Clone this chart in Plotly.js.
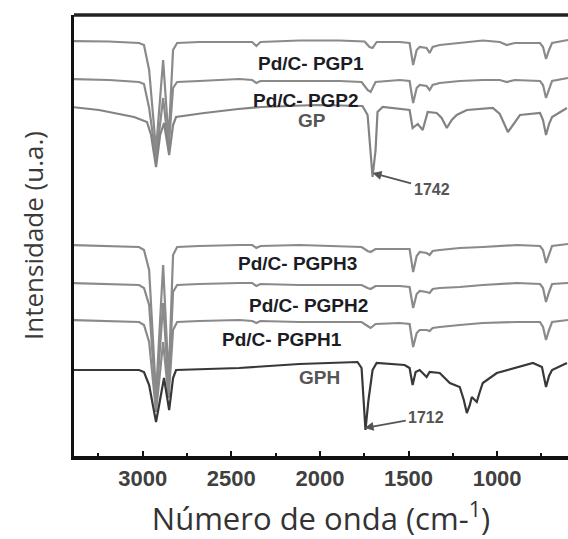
<!DOCTYPE html>
<html>
<head>
<meta charset="utf-8">
<script src="https://cdn.plot.ly/plotly-3.0.1.min.js"></script>
<style>
  html, body { margin: 0; padding: 0; background: #ffffff; }
  #chart { width: 568px; height: 539px; }
</style>
</head>
<body>
<div id="chart"></div>
<script>
// Wavenumbers (cm-1) and offset intensities (a.u.)
const wnPGP1 = [3400,3191,3021,2993,2964,2925,2885,2854,2829,2806,2682,2455,2382,2359,2336,2116,1890,1748,1720,1703,1680,1550,1494,1474,1454,1437,1398,1381,1364,1324,1211,1081,985,945,900,758,741,724,707,690,600];
const intPGP1 = [415,414.5,413,411,386,306,396,316,406,413,414,414.5,414,410,414,415.5,415.5,414.5,409,408,414,414,413,391,406,409,408,403,409,411,413,415.5,414,411,413,413,409,397,406,413,416];

const wnPGP2 = [3400,3191,3021,2993,2964,2925,2885,2854,2829,2806,2682,2455,2382,2359,2336,2116,1890,1765,1731,1714,1686,1550,1494,1474,1454,1437,1398,1381,1364,1324,1211,1081,985,945,900,758,741,724,707,690,600];
const intPGP2 = [377,376,374,372,348,298,358,308,368,374,375,377,376,373,375,375,375,374,366,364,374,376,375,353,368,371,370,366,371,373,375,376,376,374,376,375,371,358,367,375,378];

const wnGP = [3400,3247,3049,3004,2976,2953,2925,2902,2880,2851,2829,2812,2653,2461,2331,2020,1760,1731,1714,1703,1686,1675,1646,1590,1511,1494,1477,1448,1420,1392,1341,1313,1284,1256,1228,1171,1024,985,939,905,871,758,741,724,707,690,606];
const intGP = [349,346,339,336,334,321,289,321,333,301,331,339,343,347,349,351,350,341,306,279,306,344,349,348,347,346,328,332,326,344,343,338,328,336,341,346,348,342,324,332,341,343,336,321,332,339,348];

const wnPGPH3 = [3400,3191,3021,2993,2964,2925,2885,2854,2829,2806,2682,2455,2382,2359,2336,2116,1890,1765,1731,1714,1686,1550,1494,1474,1454,1437,1398,1381,1364,1324,1211,1081,888,758,741,724,707,690,600];
const intPGPH3 = [211,210,209,206,186,61,191,76,201,209,210,211,211,208,210,211,210,209,205,204,207,207,207,184,200,204,203,201,205,206,208,209,211,210,206,193,202,210,212];

const wnPGPH2 = wnPGPH3;
const intPGPH2 = [173,172,171,168,151,51,153,66,164,171,172,173,173,170,172,171,171,171,168,167,170,170,169,148,162,165,164,163,167,168,169,171,173,172,168,154,164,172,173];

const wnPGPH1 = wnPGPH3;
const intPGPH1 = [136,135,134,131,114,44,114,58,126,134,135,136,135,133,135,134,134,134,130,128,132,133,132,109,123,126,126,125,128,129,131,133,134,134,129,116,126,134,136];

const wnGPH = [3400,3021,2993,2964,2925,2880,2851,2829,2812,2455,2116,1788,1765,1754,1743,1726,1703,1680,1607,1522,1494,1477,1460,1437,1398,1381,1324,1267,1211,1188,1171,1154,1143,1126,1115,1098,1081,1002,888,798,747,724,707,690,606];
const intGPH = [86,86,84,71,34,78,46,78,86,88,92,94,88,56,26,56,86,93,92,91,88,71,84,86,79,84,83,73,69,56,43,51,59,56,54,64,73,83,89,93,89,69,80,86,93];

const tickVals = [3000,2500,2000,1500,1000];
const tickText = ['3000','2500','2000','1500','1000'];

const seriesNames = ['Pd/C- PGP1','Pd/C- PGP2','GP','Pd/C- PGPH3','Pd/C- PGPH2','Pd/C- PGPH1','GPH'];
const seriesX = [wnPGP1,wnPGP2,wnGP,wnPGPH3,wnPGPH2,wnPGPH1,wnGPH];
const seriesY = [intPGP1,intPGP2,intGP,intPGPH3,intPGPH2,intPGPH1,intGPH];
const seriesColors = ['#8a8a8a','#8a8a8a','#838383','#8a8a8a','#8a8a8a','#8a8a8a','#383838'];

// label positions (wavenumber, intensity)
const labelX = [2048,2076,2042,2127,2065,2212,2003];
const labelY = [393,356,336,193,151,117,79];

// peak call-outs: peak position, label position
const peakText = ['1742','1712'];
const peakX = [1703,1748];
const peakY = [283,28];
const peakLabelX = [1370,1400];
const peakLabelY = [267,39];

const traces = seriesNames.map((n,i) => ({
  x: seriesX[i], y: seriesY[i], type: 'scatter', mode: 'lines', name: n,
  line: {color: seriesColors[i], width: 2.2}, hoverinfo: 'skip'
}));

const annotations = seriesNames.map((n,i) => {
  const isPd = n.startsWith('Pd');
  return {
    x: labelX[i], y: labelY[i], xref: 'x', yref: 'y', showarrow: false,
    text: n,
    font: {family: 'Liberation Sans, Arial, sans-serif', size: 19, color: isPd ? '#1c1c24' : '#555555', weight: 'bold'}
  };
});

peakText.forEach((t,i) => {
  annotations.push({
    x: peakX[i], y: peakY[i], ax: peakLabelX[i], ay: peakLabelY[i],
    xref: 'x', yref: 'y', axref: 'x', ayref: 'y',
    showarrow: true, arrowhead: 2, arrowsize: 1, arrowwidth: 1.8, arrowcolor: '#555555',
    text: t, standoff: 0, startstandoff: 1,
    font: {family: 'Liberation Sans, Arial, sans-serif', size: 16, color: '#555555', weight: 'bold'}
  });
});

const layout = {
  width: 568, height: 539,
  margin: {l: 74, r: 0, t: 15, b: 83, pad: 0},
  paper_bgcolor: '#ffffff', plot_bgcolor: '#ffffff',
  showlegend: false,
  xaxis: {
    range: [3388, 600], showgrid: false, zeroline: false,
    showline: true, linecolor: '#111111', linewidth: 3.5,
    ticks: 'inside', ticklen: 5, tickwidth: 2, tickcolor: '#111111',
    tickvals: tickVals, ticktext: tickText,
    tickfont: {family: 'Liberation Sans, Arial, sans-serif', size: 22, color: '#404040', weight: 'bold'},
    minor: {dtick: 250, ticks: 'inside', ticklen: 3, tickwidth: 2, tickcolor: '#111111', showgrid: false},
    title: {text: 'Número de onda (cm-<sup>1</sup>)', standoff: 20,
            font: {family: 'Open Sans, Noto Sans, sans-serif', size: 31, color: '#333333'}}
  },
  yaxis: {
    range: [0, 441], showgrid: false, zeroline: false,
    showline: true, linecolor: '#111111', linewidth: 3.5,
    ticks: '', showticklabels: false,
    title: {text: 'Intensidade (u.a.)', standoff: 20,
            font: {family: 'Open Sans, Noto Sans, sans-serif', size: 26, color: '#3a3a3a'}}
  },
  shapes: [
    {type: 'line', xref: 'paper', yref: 'paper', x0: 0, x1: 1, y0: 1, y1: 1,
     line: {color: '#222222', width: 3.5}}
  ],
  annotations: annotations
};

Plotly.newPlot('chart', traces, layout, {displayModeBar: false, staticPlot: true});
</script>
</body>
</html>
